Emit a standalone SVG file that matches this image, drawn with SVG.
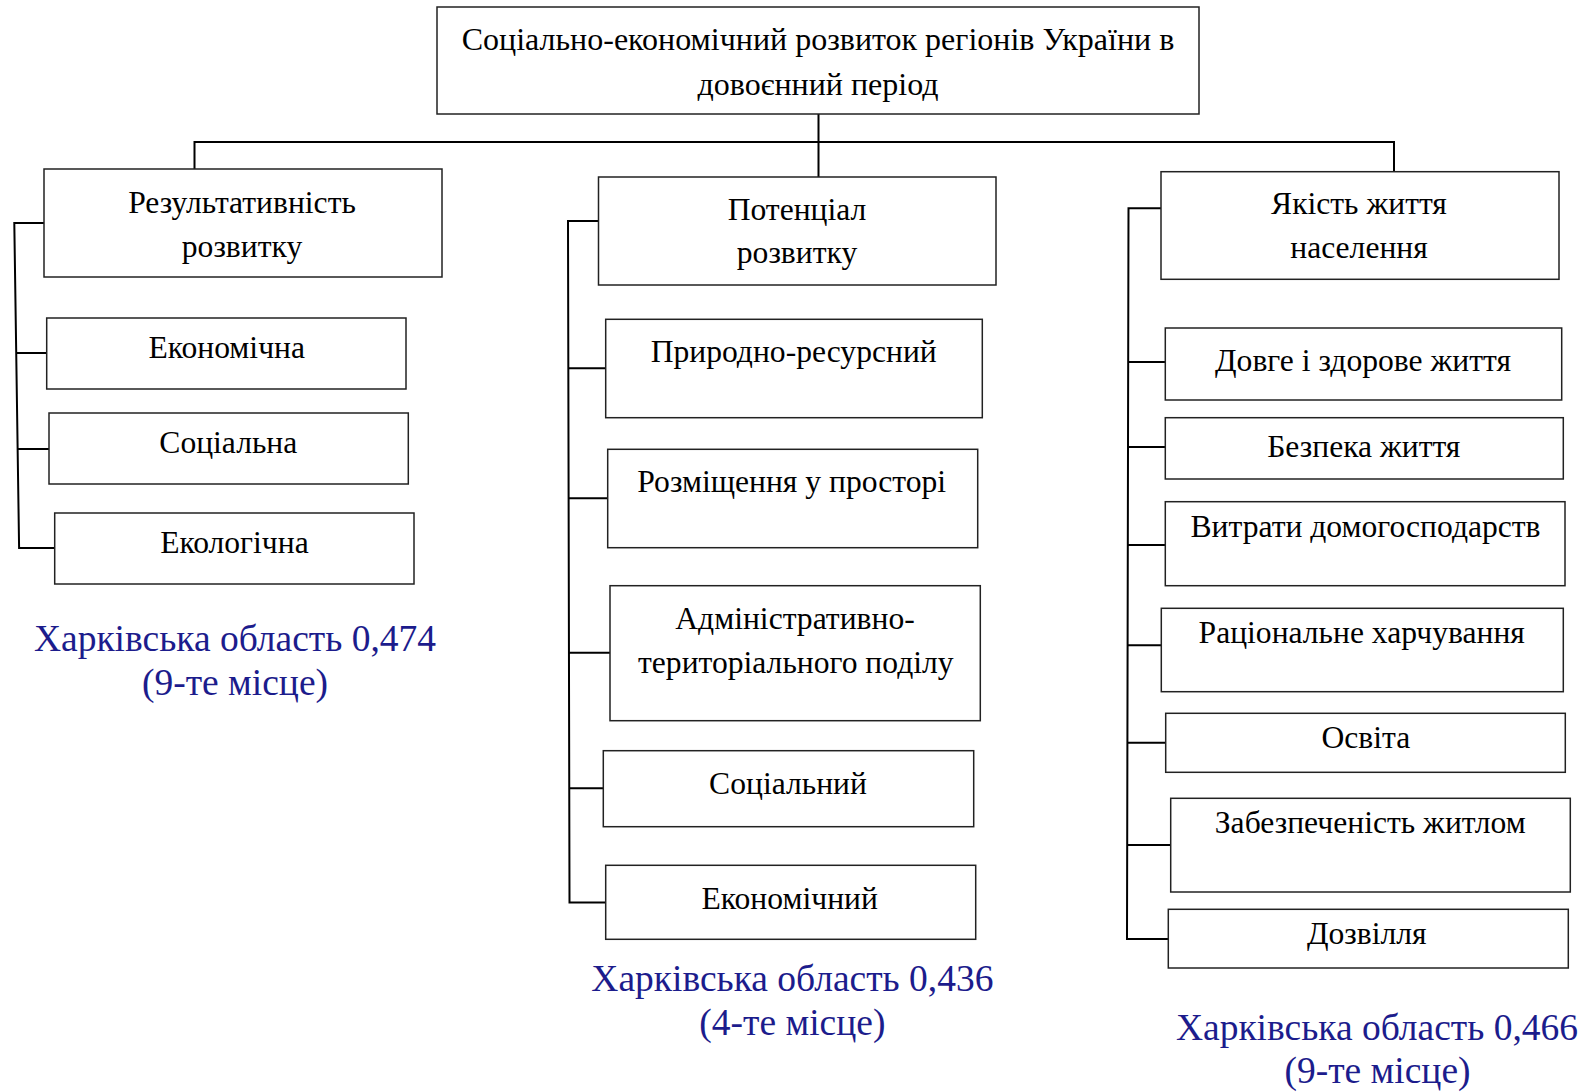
<svg xmlns="http://www.w3.org/2000/svg" width="1581" height="1092" viewBox="0 0 1581 1092">
<style>
.box{fill:#fff;stroke:#222;stroke-width:1.5}
.t{font-family:"Liberation Serif","Times New Roman",serif;font-size:31.6px;fill:#000;text-anchor:middle}
.tt{font-size:32px}
.b{font-family:"Liberation Serif","Times New Roman",serif;font-size:37.5px;fill:#1c1c8c;text-anchor:middle}
.c{fill:none;stroke:#000;stroke-width:2}
</style>
<rect width="1581" height="1092" fill="#fff"/>
<g id="connectors">
<path class="c" d="M818.5,114 V177 M194.5,169 V142 H1394 V171.5"/>
<path class="c" d="M44,223 H14.3 L19.1,548 H54.7 M15.5,353 H46.7 M17,449 H49"/>
<path class="c" d="M598.5,221 H568 L569.5,902.5 H605.7 M568.2,368.3 H605.7 M568.5,498.3 H607.7 M568.8,652.7 H610 M569.2,788.3 H603.3"/>
<path class="c" d="M1161,208.3 H1128.5 L1127,939 H1168.3 M1128.3,362 H1165.3 M1128.2,447 H1165.3 M1128,545 H1165.3 M1127.8,645.3 H1161.3 M1127.6,742.7 H1165.7 M1127.4,845 H1170.7"/>
</g>
<g id="root"><rect class="box" x="437" y="7" width="762" height="107"/>
<text class="t tt" x="818" y="50">Соціально-економічний розвиток регіонів України в</text>
<text class="t tt" x="818" y="95">довоєнний період</text></g>
<g id="n-result"><rect class="box" x="44" y="169" width="398" height="108"/>
<text class="t" x="242" y="213">Результативність</text><text class="t" x="242" y="257">розвитку</text></g>
<g id="n-econ1"><rect class="box" x="46.7" y="318" width="359.3" height="71"/><text class="t" x="226.7" y="358">Економічна</text></g>
<g id="n-soc1"><rect class="box" x="49" y="413" width="359.3" height="71"/><text class="t" x="228.3" y="453">Соціальна</text></g>
<g id="n-eco1"><rect class="box" x="54.7" y="513" width="359.3" height="71"/><text class="t" x="234.4" y="553">Екологічна</text></g>
<g id="label1"><text class="b" x="235" y="651">Харківська область 0,474</text><text class="b" x="235" y="695">(9-те місце)</text></g>
<g id="n-potential"><rect class="box" x="598.5" y="177" width="397.5" height="108"/>
<text class="t" x="797" y="220">Потенціал</text><text class="t" x="797" y="263">розвитку</text></g>
<g id="n-nat"><rect class="box" x="605.7" y="319.3" width="376.6" height="98.4"/><text class="t" x="793.7" y="361.7">Природно-ресурсний</text></g>
<g id="n-place"><rect class="box" x="607.7" y="449.3" width="370" height="98.4"/><text class="t" x="791.7" y="491.7">Розміщення у просторі</text></g>
<g id="n-admin"><rect class="box" x="610" y="585.7" width="370.3" height="135"/><text class="t" x="795" y="629">Адміністративно-</text><text class="t" x="795.8" y="673.3">територіального поділу</text></g>
<g id="n-soc2"><rect class="box" x="603.3" y="750.7" width="370.4" height="76"/><text class="t" x="788" y="794">Соціальний</text></g>
<g id="n-econ2"><rect class="box" x="605.7" y="865.3" width="370" height="74"/><text class="t" x="789.7" y="909">Економічний</text></g>
<g id="label2"><text class="b" x="792.4" y="991">Харківська область 0,436</text><text class="b" x="792.4" y="1034.5">(4-те місце)</text></g>
<g id="n-quality"><rect class="box" x="1161" y="171.7" width="398" height="107.6"/>
<text class="t" x="1359" y="214">Якість життя</text><text class="t" x="1359" y="258.3">населення</text></g>
<g id="n-health"><rect class="box" x="1165.3" y="328" width="396.4" height="72"/><text class="t" x="1363" y="371">Довге і здорове життя</text></g>
<g id="n-safety"><rect class="box" x="1165.3" y="417.7" width="398" height="61.3"/><text class="t" x="1363.8" y="457.3">Безпека життя</text></g>
<g id="n-spend"><rect class="box" x="1165.3" y="501.7" width="399.7" height="84"/><text class="t" x="1365.5" y="537.3">Витрати домогосподарств</text></g>
<g id="n-food"><rect class="box" x="1161.3" y="608.3" width="402" height="83.4"/><text class="t" x="1361.7" y="643.3">Раціональне харчування</text></g>
<g id="n-edu"><rect class="box" x="1165.7" y="713.3" width="399.6" height="59"/><text class="t" x="1365.8" y="748.3">Освіта</text></g>
<g id="n-housing"><rect class="box" x="1170.7" y="798.3" width="399.6" height="93.7"/><text class="t" x="1370.3" y="833.3">Забезпеченість житлом</text></g>
<g id="n-leisure"><rect class="box" x="1168.3" y="909.3" width="400" height="58.7"/><text class="t" x="1366.7" y="944.3">Дозвілля</text></g>
<g id="label3"><text class="b" x="1377" y="1040">Харківська область 0,466</text><text class="b" x="1377.5" y="1082.5">(9-те місце)</text></g>
</svg>
